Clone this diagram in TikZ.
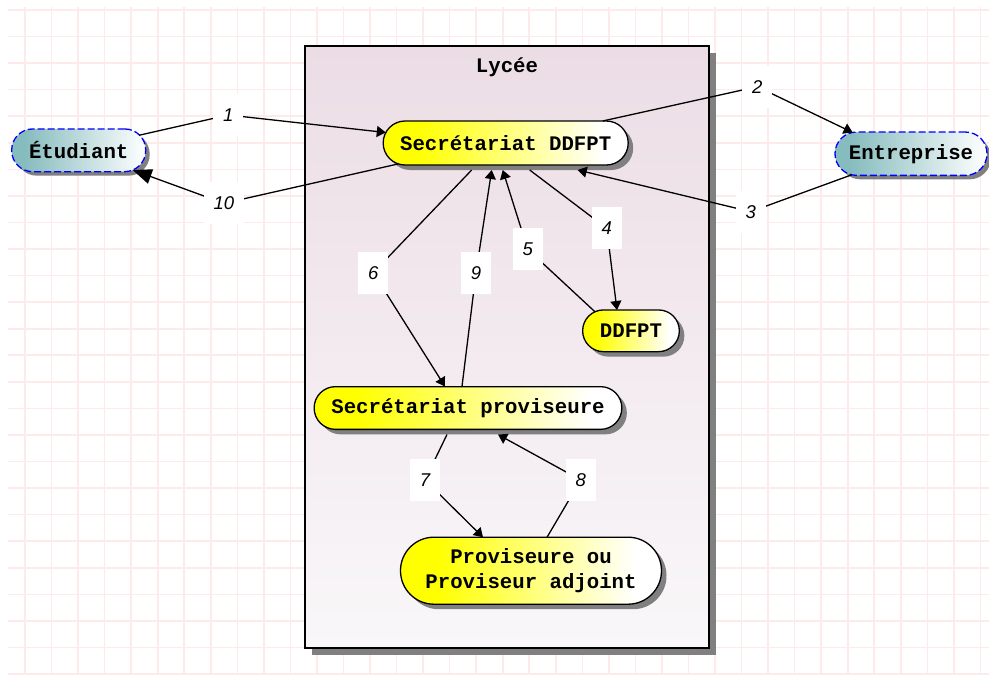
\documentclass[tikz,border=0pt]{standalone}
\usepackage{fontspec}
\setmonofont{Liberation Mono}
\newfontfamily\labfont{Liberation Sans}
\usetikzlibrary{arrows.meta,shadows,calc}
\definecolor{tealc}{RGB}{135,188,190}
\definecolor{gridc}{RGB}{253,234,234}
\definecolor{shadc}{RGB}{128,128,128}
\definecolor{lycA}{RGB}{236,221,229}
\definecolor{lycB}{RGB}{249,247,249}
\pgfdeclarehorizontalshading{ygrad}{100bp}{color(0bp)=(yellow); color(32bp)=(yellow); color(70bp)=(white); color(100bp)=(white)}
\pgfdeclarehorizontalshading{tgrad}{100bp}{color(0bp)=(tealc); color(30bp)=(tealc); color(75bp)=(white); color(100bp)=(white)}
\tikzset{
  boxfont/.style={font=\ttfamily\bfseries\fontsize{20.7}{24.7}\selectfont},
  ynode/.style={boxfont, draw=black, line width=1.3pt, shade, shading=ygrad, align=center, inner sep=0pt,
    drop shadow={shadow xshift=5pt, shadow yshift=-5pt, fill=shadc, opacity=1}},
  tnode/.style={boxfont, draw=blue, line width=1.3pt, dash pattern=on 7pt off 3pt, shade, shading=tgrad, inner sep=0pt,
    drop shadow={shadow xshift=4pt, shadow yshift=-4pt, fill=shadc, opacity=1}},
  lyc/.style={draw=black, line width=2pt, shade, top color=lycA, bottom color=lycB, inner sep=0pt,
    drop shadow={shadow xshift=7pt, shadow yshift=-7pt, fill=shadc, opacity=1}},
  lab/.style={fill=white, inner sep=0pt, minimum width=30pt, minimum height=42pt,
    font=\labfont\itshape\fontsize{18.5}{20}\selectfont},
  edge/.style={line width=1.3pt, -{Triangle[length=9pt,width=11pt]}},
  gridline/.style={gridc, line width=1.6pt}
}
\begin{document}
\begin{tikzpicture}[x=1pt,y=-1pt]
\useasboundingbox[fill=white] (0,0) rectangle (989,675);
% grid
\foreach \i in {0,...,36} \draw[gridline] ({25+26.54*\i},7) -- ({25+26.54*\i},675);
\foreach \j in {0,...,25} \draw[gridline] (8,{10+26.56*\j}) -- (989,{10+26.56*\j});
% Lycee container
\node[lyc, minimum width=404pt, minimum height=602pt] (lyc) at (507,347) {};
\node[boxfont] (lyct) at (507,67) {Lycée};
% nodes
\node[tnode, rounded corners=21pt, minimum width=134pt, minimum height=42.7pt] (stud) at (78.7,150.3) {Étudiant};
\node[tnode, rounded corners=21.5pt, minimum width=152pt, minimum height=43.3pt] (ent) at (911,153.7) {Entreprise};
\node[ynode, rounded corners=21.9pt, minimum width=245pt, minimum height=44pt] (sd) at (505.7,143) {Secrétariat DDFPT};
\node[ynode, rounded corners=20.8pt, minimum width=96.7pt, minimum height=41.7pt] (dd) at (631,330.8) {DDFPT};
\node[ynode, rounded corners=21.3pt, minimum width=307.7pt, minimum height=42.7pt] (sp) at (468,408) {Secrétariat proviseure};
\node[ynode, rounded corners=33.4pt, minimum width=261pt, minimum height=67pt] (pv) at (531,570.7) {Proviseure ou\\Proviseur adjoint};
% label positions
\coordinate (c1) at (228.3,115);
\coordinate (c10) at (224,203.3);
\coordinate (c2) at (757.3,86.7);
\coordinate (c3) at (750.7,211.7);
\coordinate (c4) at (606.7,228.3);
\coordinate (c5) at (527.7,249.3);
\coordinate (c6) at (373.3,272.7);
\coordinate (c9) at (476,272.7);
\coordinate (c7) at (425,480);
\coordinate (c8) at (580.7,480);
% connectors
\draw[edge] ($(stud)+(60.6,-15.1)$) -- (c1) -- ($(sd)+(-119.9,-10.5)$);
\draw[line width=1.3pt, -{Triangle[length=19pt,width=15pt]}] ($(sd)+(-107.4,20.9)$) -- (c10) -- ($(stud)+(54,19.7)$);
\draw[edge] ($(sd)+(97,-22)$) -- (c2) -- ($(ent)+(-58.3,-21.2)$);
\draw[edge] ($(ent)+(-59,21)$) -- (c3) -- ($(sd)+(72,27)$);
\draw[edge] ($(sd)+(24,27)$) -- (c4) -- ($(dd)+(-14,-20.8)$);
\draw[edge] ($(dd)+(-36,-19)$) -- (c5) -- ($(sd)+(-3,27)$);
\draw[edge] ($(sd)+(-34,27)$) -- (c6) -- ($(sp)+(-23,-21.5)$);
\draw[edge] ($(sp)+(-6,-21.5)$) -- (c9) -- ($(sd)+(-14,27)$);
\draw[edge] ($(sp)+(-21,26.5)$) -- (c7) -- ($(pv)+(-48,-33.4)$);
\draw[edge] ($(pv)+(16,-33.4)$) -- (c8) -- ($(sp)+(30,26.5)$);
% labels
\node[lab] (l1) at (c1) {1};
\node[lab, minimum width=40pt] (l10) at (c10) {10};
\node[lab] (l2) at (c2) {2};
\node[lab] (l3) at (c3) {3};
\node[lab] (l4) at (c4) {4};
\node[lab] (l5) at (c5) {5};
\node[lab] (l6) at (c6) {6};
\node[lab] (l9) at (c9) {9};
\node[lab] (l7) at (c7) {7};
\node[lab] (l8) at (c8) {8};
\end{tikzpicture}
\end{document}
